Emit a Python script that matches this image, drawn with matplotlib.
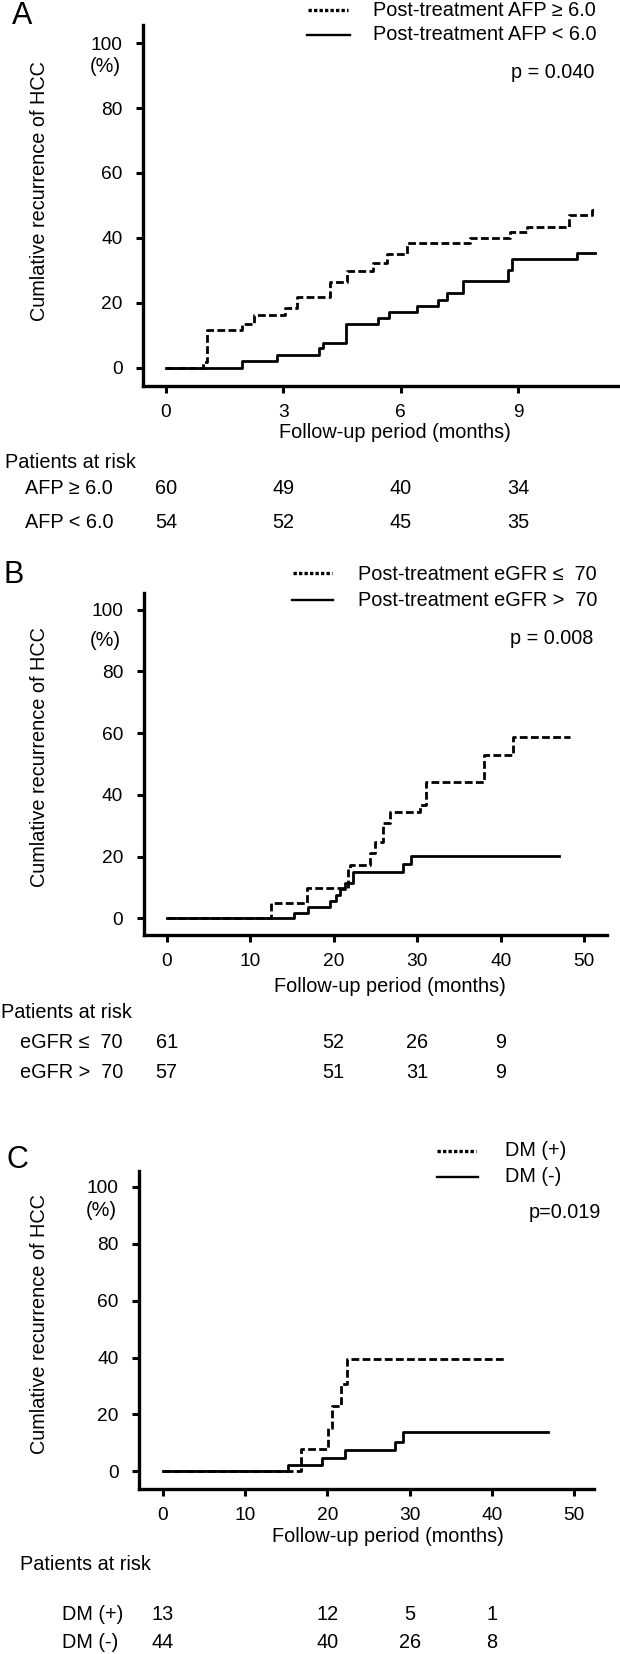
import matplotlib
matplotlib.use("Agg")
import matplotlib.pyplot as plt
from matplotlib.lines import Line2D

plt.rcParams['font.family'] = ['Liberation Sans', 'DejaVu Sans']

# ---- data ----
# A: post-treatment AFP
afp_hi_t = [0, 0.95, 1.05, 1.95, 2.25, 3.04, 3.34, 4.18, 4.63, 5.30, 5.64, 6.15, 7.77, 8.79, 9.22, 10.31, 10.88]
afp_hi_y = [0, 1.7, 11.6, 13.4, 16.2, 18.3, 21.7, 26.5, 29.9, 32.2, 35.0, 38.3, 40.1, 41.7, 43.5, 47.1, 48.6]
afp_hi_end = 10.94
afp_lo_t = [0, 1.93, 2.83, 3.90, 4.00, 4.60, 5.43, 5.69, 6.41, 6.96, 7.17, 7.60, 8.75, 8.84, 10.50]
afp_lo_y = [0, 2.1, 3.9, 6.0, 7.7, 13.5, 15.2, 17.1, 19.1, 20.9, 22.9, 26.7, 30.0, 33.4, 35.2]
afp_lo_end = 10.96
afp_ticks = [0, 3, 6, 9]
afp_risk_hi = [60, 49, 40, 34]
afp_risk_lo = [54, 52, 45, 35]

# B: post-treatment eGFR
egfr_lo_t = [0, 12.5, 16.8, 21.7, 21.9, 24.3, 24.9, 25.9, 26.7, 30.3, 31.1, 38.0, 41.5]
egfr_lo_y = [0, 5.0, 9.7, 16.2, 17.3, 21.1, 24.8, 30.8, 34.6, 36.7, 44.1, 52.9, 58.9]
egfr_lo_end = 48.3
egfr_hi_t = [0, 15.3, 16.9, 19.5, 20.3, 20.8, 21.3, 22.3, 28.3, 29.3]
egfr_hi_y = [0, 1.8, 3.8, 5.7, 7.5, 9.4, 11.3, 14.9, 17.7, 20.1]
egfr_hi_end = 47.0
month_ticks = [0, 10, 20, 30, 40, 50]
egfr_risk_t = [0, 20, 30, 40]
egfr_risk_lo = [61, 52, 26, 9]
egfr_risk_hi = [57, 51, 31, 9]

# C: diabetes mellitus
dm_pos_t = [0, 16.8, 20.1, 20.6, 21.7, 22.4]
dm_pos_y = [0, 7.7, 15.4, 23.1, 30.8, 39.4]
dm_pos_end = 41.7
dm_neg_t = [0, 15.2, 19.3, 22.2, 28.2, 29.2]
dm_neg_y = [0, 2.3, 4.8, 7.5, 10.4, 13.7]
dm_neg_end = 46.8
dm_risk_t = [0, 20, 30, 40]
dm_risk_pos = [13, 12, 5, 1]
dm_risk_neg = [44, 40, 26, 8]

y_ticks = [0, 20, 40, 60, 80, 100]

W, H = 620, 1654
FS = 14.3      # general text
TFS = 13.8     # tick labels
fig = plt.figure(figsize=(W / 100, H / 100), dpi=100)


def fx(x):
    return x / W


def fy(y):
    return 1 - y / H


def txt(x, y, s, **kw):
    kw.setdefault('fontsize', FS)
    kw.setdefault('va', 'center')
    fig.text(fx(x), fy(y), s, **kw)


def legend_line(x0, x1, y, dotted):
    if dotted:
        ln = Line2D([fx(x0), fx(x1)], [fy(y), fy(y)], color='black', lw=2.4,
                    linestyle=(0, (1.0, 0.65)), transform=fig.transFigure)
    else:
        ln = Line2D([fx(x0), fx(x1)], [fy(y), fy(y)], color='black', lw=1.7,
                    transform=fig.transFigure)
    fig.add_artist(ln)


def make_axes(box, xlim, ylim, xticks):
    l, t, r, b = box
    ax = fig.add_axes([fx(l), fy(b), (r - l) / W, (b - t) / H])
    ax.set_xlim(*xlim)
    ax.set_ylim(*ylim)
    for s in ['top', 'right']:
        ax.spines[s].set_visible(False)
    for s in ['left', 'bottom']:
        ax.spines[s].set_linewidth(2.4)
    ax.set_xticks(xticks)
    ax.set_yticks(y_ticks)
    ax.tick_params(direction='out', length=5, width=2.2, labelsize=TFS)
    ax.tick_params(axis='y', pad=10)
    ax.tick_params(axis='x', pad=8)
    return ax


def km(ax, t, y, end, dashed):
    ts = list(t) + [end]
    ys = list(y) + [y[-1]]
    if dashed:
        ax.step(ts, ys, where='post', color='black', lw=2.0, dashes=(2.8, 1.2))
    else:
        ax.step(ts, ys, where='post', color='black', lw=2.0)


def risk_row(ax, y_px, times, counts):
    for tt, n in zip(times, counts):
        xp = ax.transData.transform((tt, 0))[0]
        fig.text(xp / fig.dpi / fig.get_figwidth(), fy(y_px), str(n),
                 fontsize=FS, ha='center', va='center')


# ---------------- Panel A ----------------
axA = make_axes((143.3, 25, 618, 385.7), (-0.58, 11.55), (-5.55, 105.6), afp_ticks)
km(axA, afp_hi_t, afp_hi_y, afp_hi_end, True)
km(axA, afp_lo_t, afp_lo_y, afp_lo_end, False)
txt(12, 16, 'A', fontsize=22, ha='left')
txt(121, 67, '(%)', ha='right')
txt(40, 191, 'Cumlative recurrence of HCC', rotation=90, ha='center')
txt(395, 433, 'Follow-up period (months)', ha='center')
legend_line(308, 348, 10, True)
legend_line(307, 350, 35, False)
txt(373, 10, 'Post-treatment AFP \u2265 6.0', ha='left')
txt(373, 35, 'Post-treatment AFP < 6.0', ha='left')
txt(594, 73, 'p = 0.040', ha='right')
txt(5, 462, 'Patients at risk', ha='left')
txt(25, 488, 'AFP \u2265 6.0', ha='left')
txt(25, 522, 'AFP < 6.0', ha='left')

# ---------------- Panel B ----------------
axB = make_axes((144, 593.3, 606.7, 935), (-2.72, 52.7), (-5.41, 105.3), month_ticks)
km(axB, egfr_lo_t, egfr_lo_y, egfr_lo_end, True)
km(axB, egfr_hi_t, egfr_hi_y, egfr_hi_end, False)
txt(4, 575, 'B', fontsize=22, ha='left')
txt(121, 640, '(%)', ha='right')
txt(40, 757, 'Cumlative recurrence of HCC', rotation=90, ha='center')
txt(390, 987, 'Follow-up period (months)', ha='center')
legend_line(293, 332, 573, True)
legend_line(292, 333, 600, False)
txt(358, 574, 'Post-treatment eGFR \u2264  70', ha='left')
txt(358, 601, 'Post-treatment eGFR >  70', ha='left')
txt(593, 639, 'p = 0.008', ha='right')
txt(1, 1013, 'Patients at risk', ha='left')
txt(20, 1042, 'eGFR \u2264  70', ha='left')
txt(20, 1073, 'eGFR >  70', ha='left')

# ---------------- Panel C ----------------
axC = make_axes((139.3, 1170.7, 594, 1489), (-2.84, 52.4), (-6.2, 105.7), month_ticks)
km(axC, dm_pos_t, dm_pos_y, dm_pos_end, True)
km(axC, dm_neg_t, dm_neg_y, dm_neg_end, False)
txt(6, 1160, 'C', fontsize=22, ha='left')
txt(117, 1210, '(%)', ha='right')
txt(40, 1324, 'Cumlative recurrence of HCC', rotation=90, ha='center')
txt(388, 1537, 'Follow-up period (months)', ha='center')
legend_line(437, 476, 1151, True)
legend_line(437, 478, 1177, False)
txt(505, 1151, 'DM (+)', ha='left')
txt(505, 1177, 'DM (-)', ha='left')
txt(601, 1212, 'p=0.019', ha='right')
txt(20, 1565, 'Patients at risk', ha='left')
txt(62, 1614, 'DM (+)', ha='left')
txt(62, 1642, 'DM (-)', ha='left')

# numbers at risk (aligned to the x axis of each panel)
risk_row(axA, 488, afp_ticks, afp_risk_hi)
risk_row(axA, 522, afp_ticks, afp_risk_lo)
risk_row(axB, 1042, egfr_risk_t, egfr_risk_lo)
risk_row(axB, 1073, egfr_risk_t, egfr_risk_hi)
risk_row(axC, 1614, dm_risk_t, dm_risk_pos)
risk_row(axC, 1642, dm_risk_t, dm_risk_neg)

fig.savefig('out.png', dpi=100)
